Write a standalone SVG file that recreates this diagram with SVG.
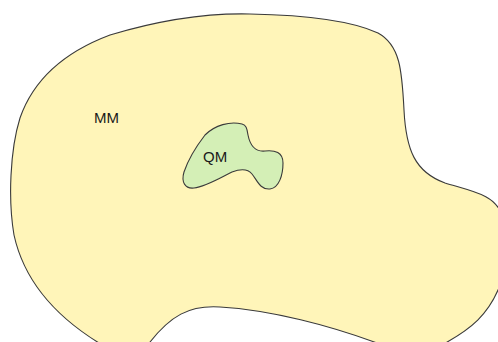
<svg xmlns="http://www.w3.org/2000/svg" width="498" height="342" viewBox="0 0 498 342">
<style>
.region{stroke:#3a3a3a;stroke-width:1.1;stroke-linejoin:round}
.mm{fill:#fff5b9}
.qm{fill:#d4efb6}
.lbl{font-family:"Liberation Sans",Arial,sans-serif;font-size:15px;fill:#1a1a1a}
</style>
<rect width="498" height="342" fill="#ffffff"/>
<g id="MM">
<path class="region mm" d="M 104 346 C 60 320, 25 285, 14 235 C 8 200, 10 150, 20 118 C 35 75, 70 50, 110 35 C 160 20, 210 13, 250 14 C 300 15, 350 20, 378 33 C 400 45, 402 70, 404 110 C 406 150, 415 172, 445 183 C 475 192, 495 195, 502 215 L 502 280 C 490 315, 470 330, 440 346 L 385 346 C 330 325, 270 310, 220 307 C 190 305, 170 315, 147 346 Z"/>
<text class="lbl" x="94" y="123">MM</text>
</g>
<g id="QM">
<path class="region qm" d="M 242 124 C 230 121, 215 125, 205 135 C 195 148, 188 160, 184 172 C 181 182, 185 189, 194 188 C 205 187, 220 178, 232 172 C 240 169, 248 169, 252 174 C 257 180, 260 190, 270 189 C 279 188, 283 175, 283 163 C 283 152, 275 150, 265 151 C 255 152, 250 145, 248 135 C 247 128, 246 125, 242 124 Z"/>
<text class="lbl" x="203" y="162">QM</text>
</g>
<g id="connectors"/>
</svg>
